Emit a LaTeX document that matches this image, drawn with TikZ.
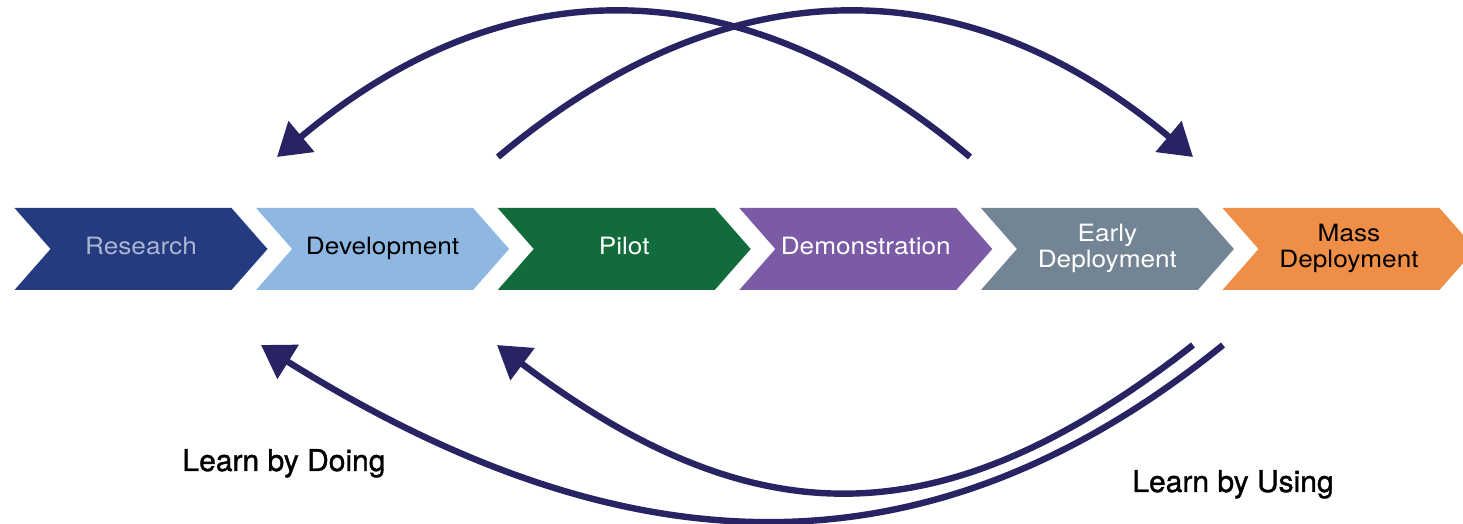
\documentclass[tikz,border=0pt]{standalone}
\usepackage{fontspec}
\setmainfont{TeX Gyre Heros}
\newfontfamily\chevfont{TeX Gyre Heros}[FakeStretch=1.1]
\newfontfamily\learnfont{TeX Gyre Heros}[FakeBold=1.2]
\usetikzlibrary{shapes.symbols,arrows.meta}

\begin{document}
\begin{tikzpicture}[x=1pt,y=1pt]
        \tikzstyle{every node}=[font=\chevfont\fontsize{23.8}{26}\selectfont]
        \tikzstyle{stage}=[signal, signal to=east, signal from=west, signal pointer angle=97.4, minimum width=253pt, minimum height=82pt, inner sep=0pt, align=center, text=white]
        \tikzstyle{learnarrow}=[line width=6.4pt, color={rgb,255:red,40; green,36; blue,99}, >={Triangle[length=32pt,width=39pt]}]
        \clip (0,0) rectangle (1463,524);
        % the six stages
        \node [stage, fill={rgb,255:red,36; green,59; blue,128}, text={rgb,255:red,172; green,180; blue,208}] (research) at (141,275) {Research\strut};
        \node [stage, fill={rgb,255:red,142; green,183; blue,225}, text=black] (development) at (382.6,275) {Development\strut};
        \node [stage, fill={rgb,255:red,18; green,107; blue,58}] (pilot) at (624.2,275) {Pilot\strut};
        \node [stage, fill={rgb,255:red,123; green,90; blue,166}] (demonstration) at (865.8,275) {Demonstration\strut};
        \node [stage, fill={rgb,255:red,115; green,133; blue,148}] (early) at (1107.4,275) {Early\strut\\Deployment\strut};
        \node [stage, fill={rgb,255:red,239; green,142; blue,70}, text=black] (mass) at (1349,275) {Mass\strut\\Deployment\strut};
        % ends of the feedback loops
        \coordinate (backStart) at (970,367);
        \coordinate (backEnd) at (277,367);
        \coordinate (fwdStart) at (498,367);
        \coordinate (fwdEnd) at (1193,367);
        \coordinate (pilotStart) at (1193,179);
        \coordinate (pilotEnd) at (497,179);
        \coordinate (devStart) at (1223,179);
        \coordinate (devEnd) at (261,179);
        \draw [learnarrow, ->] (backStart) .. controls +(140:299) and +(40:299) .. (backEnd);
        \draw [learnarrow, ->] (fwdStart) .. controls +(40:299) and +(140:299) .. (fwdEnd);
        \draw [learnarrow, ->] (pilotStart) .. controls +(218:317) and +(323:324) .. (pilotEnd);
        \draw [learnarrow, ->] (devStart) .. controls +(219:380) and +(328:430) .. (devEnd);
        \node [font=\learnfont\fontsize{30}{36}\selectfont, anchor=base] (doing) at (284,53) {Learn by Doing};
        \node [font=\learnfont\fontsize{30}{36}\selectfont, anchor=base] (using) at (1233,32) {Learn by Using};
    \end{tikzpicture}
\end{document}
